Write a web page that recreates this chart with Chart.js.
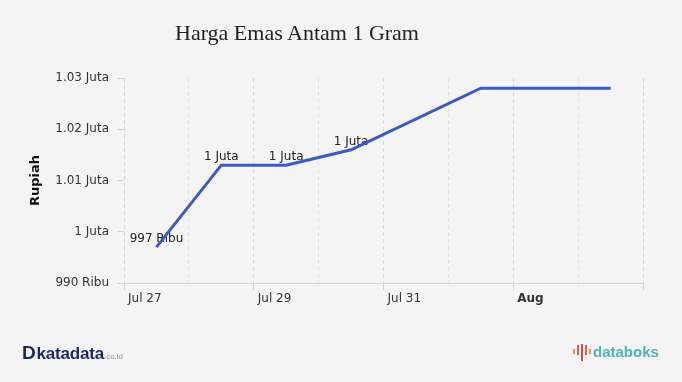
<!DOCTYPE html>
<html>
<head>
<meta charset="utf-8">
<script src="https://cdn.jsdelivr.net/npm/chart.js@4/dist/chart.umd.min.js"></script>
<style>
  html, body { margin: 0; padding: 0; background: #f4f4f4; }
  #wrap { position: relative; width: 682px; height: 382px; overflow: hidden; }
  #chart { position: absolute; left: 0; top: 0; }
  .title { position: absolute; left: 0; top: 20px; width: 594px; text-align: center;
           font-family: "Liberation Serif", serif; font-size: 22px; color: #222; }
  .kd { position: absolute; left: 22px; top: 342px; font-family: "Liberation Sans", Arial, sans-serif;
        color: #1b2a5e; font-weight: bold; font-size: 17px; letter-spacing: -0.2px; }
  .kd .d { font-size: 19px; font-weight: 900; margin-right: 1px; }
  .kd small { font-size: 8px; color: #8a93a8; font-weight: normal; letter-spacing: 0; }
  .db { position: absolute; left: 572px; top: 343px; font-family: "Liberation Sans", Arial, sans-serif;
        color: #4fb3b5; font-weight: bold; font-size: 15px; }
  .bars { display: inline-block; width: 21px; height: 17px; position: relative; vertical-align: -4px; }
  .bars i { position: absolute; width: 2px; background: #e0604a; }
</style>
</head>
<body>
<div id="wrap">
  <canvas id="chart" width="682" height="382"></canvas>
  <div class="title">Harga Emas Antam 1 Gram</div>
  <div class="kd"><span class="d">D</span>katadata<small>.co.id</small></div>
  <div class="db"><span class="bars">
    <i style="left:1px;top:5px;height:5px;background:#f08a4b"></i>
    <i style="left:5px;top:1px;height:10px"></i>
    <i style="left:9px;top:0px;height:17px;background:#e2493c"></i>
    <i style="left:13px;top:1px;height:10px"></i>
    <i style="left:17px;top:5px;height:5px;background:#f08a4b"></i>
  </span>databoks</div>
</div>
<script>
// days since Jul 27 (no price on Jul 31)
const days = [0, 1, 2, 3, 5, 6, 7];
const prices = [997000, 1013000, 1013000, 1016000, 1028000, 1028000, 1028000];
const pointLabels = ["997 Ribu", "1 Juta", "1 Juta", "1 Juta", "", "", ""];
const dayTicks = [0, 1, 2, 3, 4, 5, 6, 7, 8];
const dayTickLabels = ["Jul 27", "", "Jul 29", "", "Jul 31", "", "Aug", "", ""];
const yTicks = [990000, 1000000, 1010000, 1020000, 1030000];
const yTickLabels = ["990 Ribu", "1 Juta", "1.01 Juta", "1.02 Juta", "1.03 Juta"];

const isMajor = i => i % 2 === 0;

// labels go under the line, like the original
const labelPlugin = {
  id: 'pointLabels',
  beforeDatasetsDraw(chart) {
    const ctx = chart.ctx;
    const meta = chart.getDatasetMeta(0);
    ctx.save();
    ctx.font = '12px "DejaVu Sans"';
    ctx.fillStyle = '#222';
    ctx.textAlign = 'center';
    ctx.textBaseline = 'bottom';
    meta.data.forEach((pt, i) => {
      if (pointLabels[i]) ctx.fillText(pointLabels[i], pt.x, pt.y - 2);
    });
    ctx.restore();
  }
};

new Chart(document.getElementById('chart'), {
  type: 'line',
  data: {
    datasets: [{
      data: days.map((d, i) => ({ x: d + 0.5, y: prices[i] })),
      borderColor: '#3a5bc7',
      borderWidth: 3,
      pointRadius: 0,
      tension: 0
    }]
  },
  options: {
    responsive: false,
    animation: false,
    layout: { padding: { top: 78, right: 39, left: 0, bottom: 0 } },
    plugins: { legend: { display: false }, tooltip: { enabled: false }, title: { display: false } },
    scales: {
      x: {
        type: 'linear',
        min: 0,
        max: 8,
        afterBuildTicks: s => { s.ticks = dayTicks.map(v => ({ value: v })); },
        afterFit: s => { s.height = 99; },
        border: { display: true, color: '#d6d6d6', width: 1, dash: [4, 3] },
        grid: {
          color: c => isMajor(c.index) ? '#d6d6d6' : '#e2e2e2',
          tickBorderDash: [],
          tickColor: c => isMajor(c.index) ? '#d0d0d0' : 'rgba(0,0,0,0)',
          tickLength: 7
        },
        ticks: {
          autoSkip: false,
          maxRotation: 0,
          align: 'start',
          labelOffset: 4,
          padding: 2,
          color: '#333',
          font: c => ({ family: 'DejaVu Sans', size: 12, weight: c.index === 6 ? 'bold' : 'normal' }),
          callback: (v, i) => dayTickLabels[i]
        }
      },
      y: {
        min: 990000,
        max: 1030000,
        afterBuildTicks: s => { s.ticks = yTicks.map(v => ({ value: v })); },
        afterFit: s => { s.width = 124; },
        border: { display: false },
        grid: { drawOnChartArea: false, drawTicks: true, tickLength: 7, tickColor: '#d6d6d6' },
        ticks: {
          padding: 8,
          color: '#333',
          font: { family: 'DejaVu Sans', size: 12 },
          callback: (v, i) => yTickLabels[i]
        },
        title: {
          display: true,
          text: 'Rupiah',
          color: '#111',
          font: { family: 'DejaVu Sans', size: 13, weight: 'bold' },
          padding: { top: 28, bottom: 0 }
        }
      }
    }
  },
  plugins: [labelPlugin]
});
</script>
</body>
</html>
